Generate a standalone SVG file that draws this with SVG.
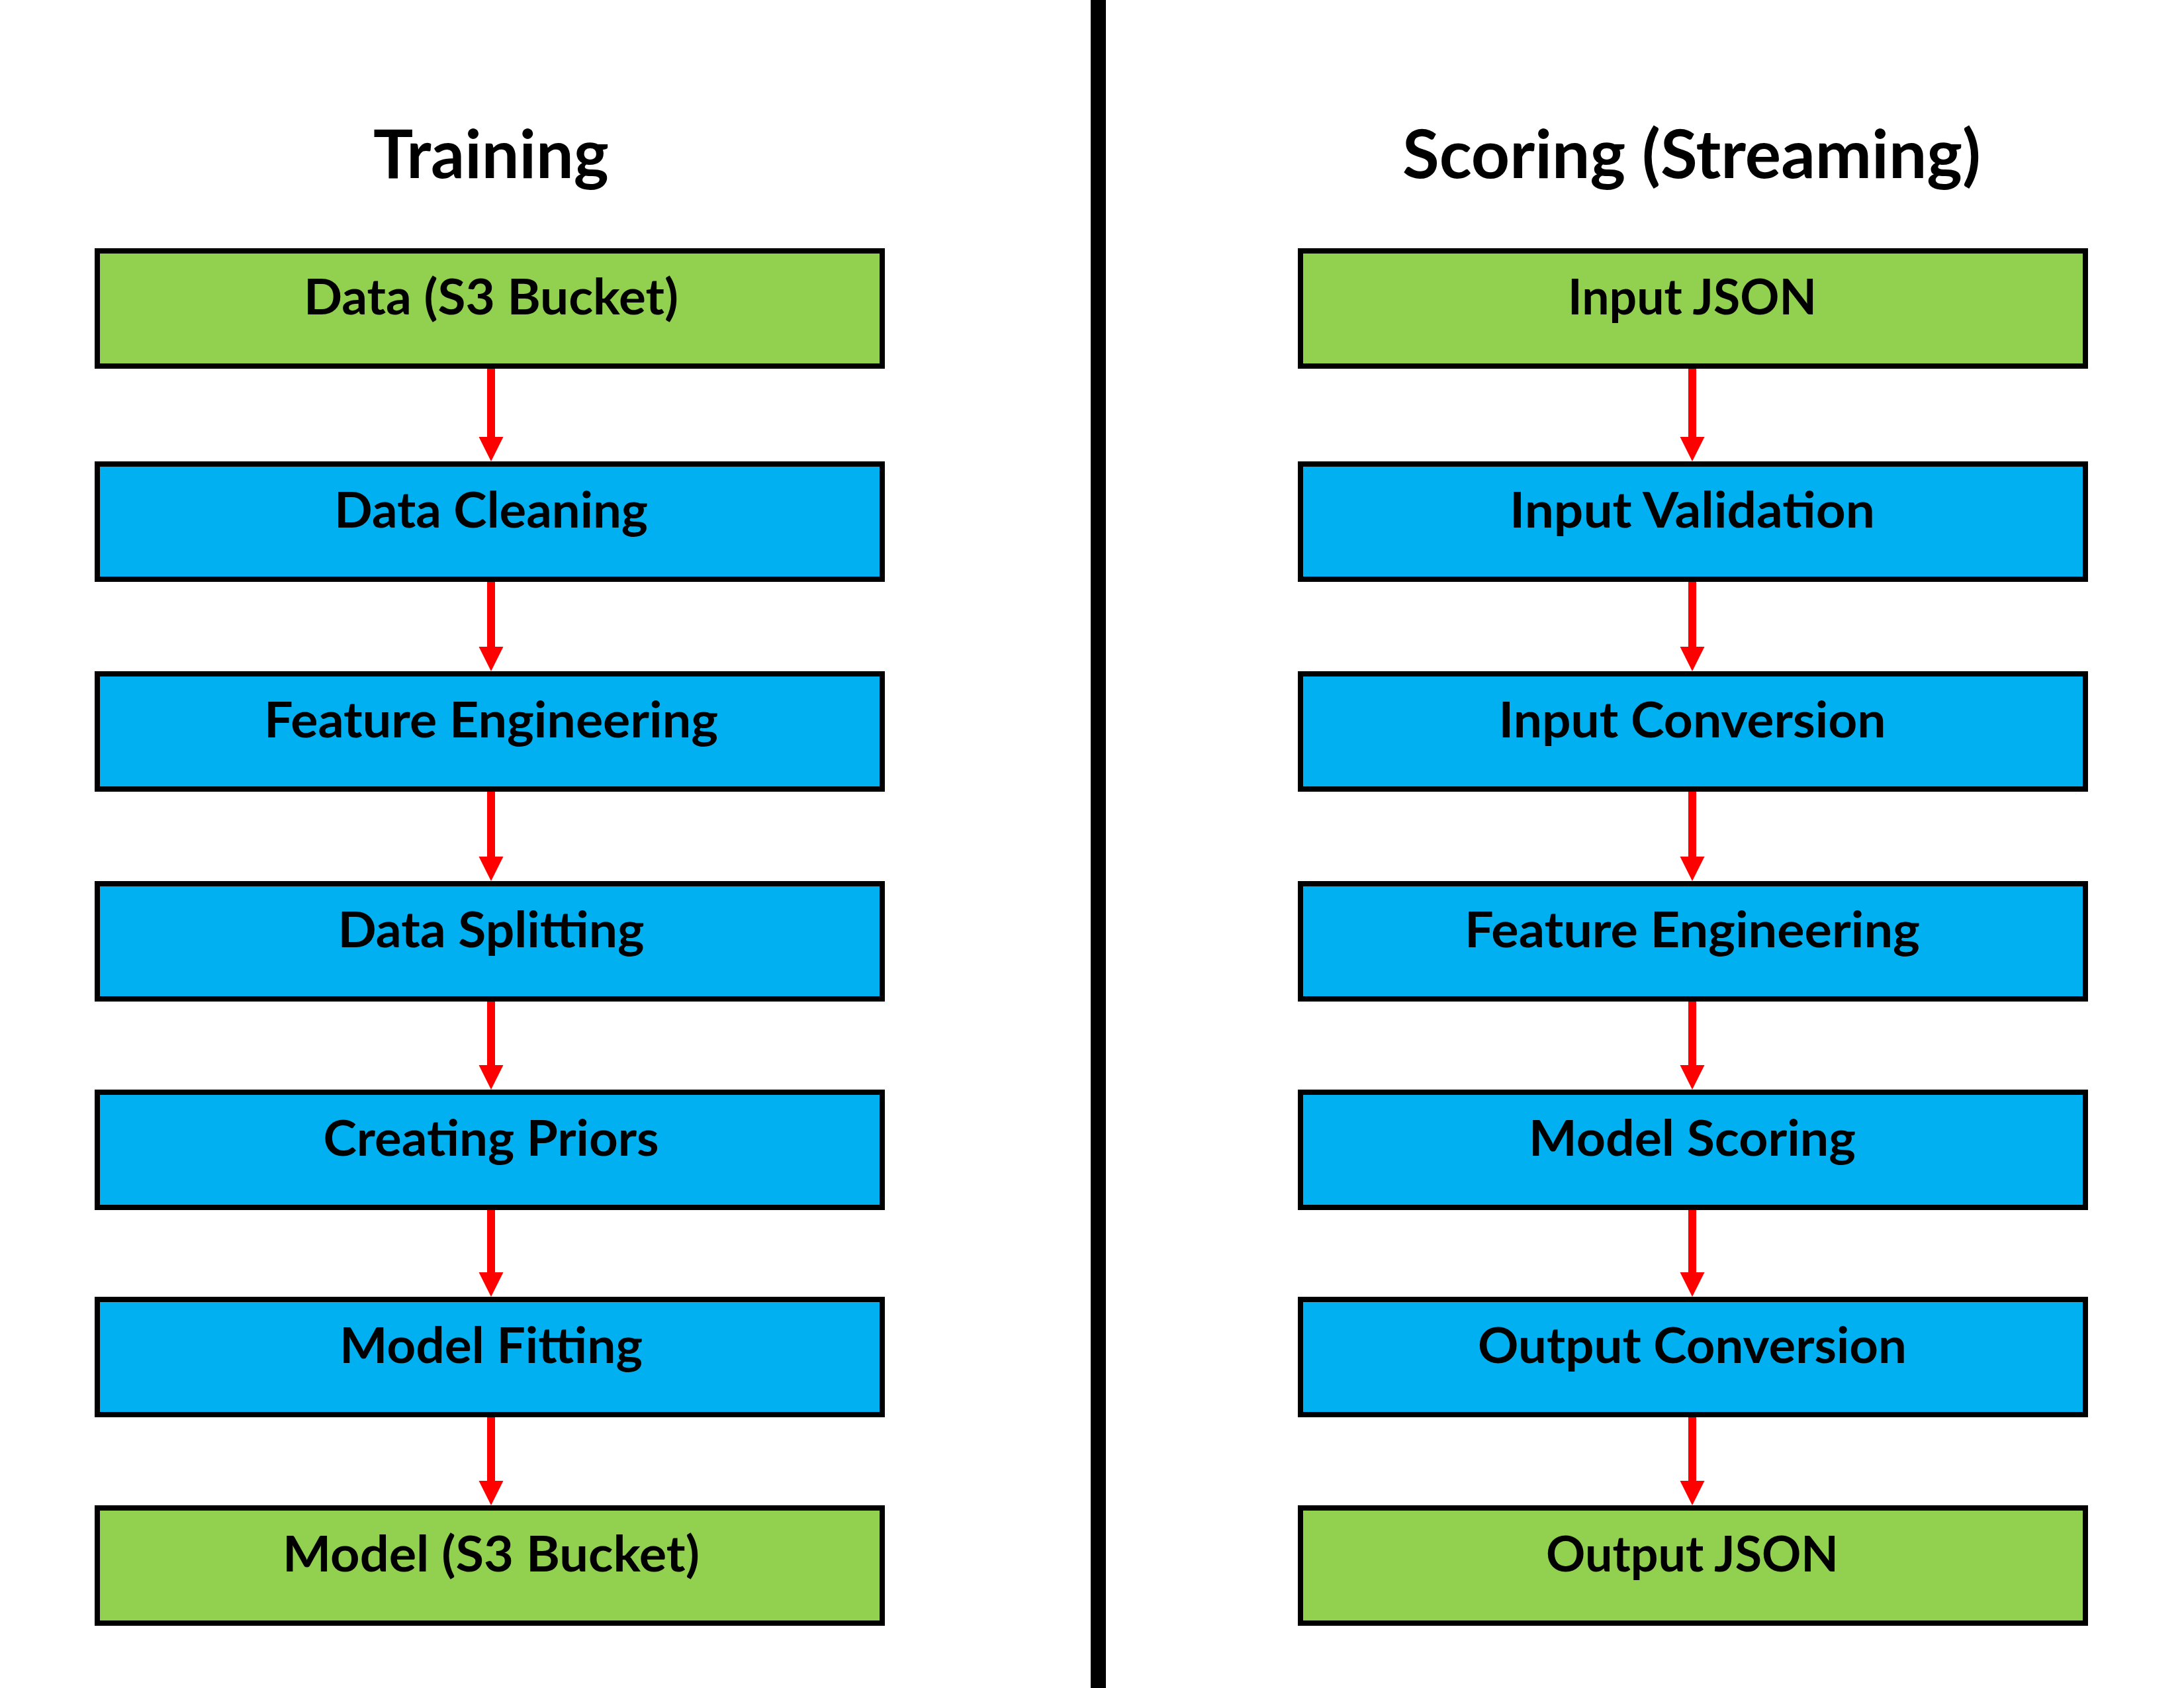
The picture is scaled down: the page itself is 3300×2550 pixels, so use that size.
<svg xmlns="http://www.w3.org/2000/svg" width="3300" height="2550" viewBox="0 0 3300 2550">
<style>
.box{stroke:#000;stroke-width:8}
.g{fill:#92D050}
.b{fill:#00B0F0}
.lbl{font-family:Lato,"Open Sans","Liberation Sans",sans-serif;font-weight:bold;font-size:75px;fill:#000;text-anchor:middle}
.ttl{font-family:Lato,"Open Sans","Liberation Sans",sans-serif;font-weight:bold;font-size:102px;fill:#000;text-anchor:middle}
.con{stroke:#FF0000;stroke-width:12;fill:none;marker-end:url(#ah)}
</style>
<defs>
<marker id="ah" markerUnits="userSpaceOnUse" markerWidth="38" markerHeight="38" refX="1" refY="18.5" orient="auto" viewBox="0 0 38 37">
<path d="M0,0 L37,18.5 L0,37 Z" fill="#FF0000"/>
</marker>
</defs>
<rect width="3300" height="2550" fill="#fff"/>
<rect id="separator" x="1648" y="0" width="23" height="2550" fill="#000"/>
<text id="title-training" class="ttl" x="742" y="269" textLength="356" lengthAdjust="spacingAndGlyphs">Training</text>
<text id="title-scoring" class="ttl" x="2556" y="269" textLength="874" lengthAdjust="spacingAndGlyphs">Scoring (Streaming)</text>
<g id="connectors">
<line class="con" x1="742" y1="557" x2="742" y2="661"/>
<line class="con" x1="742" y1="879" x2="742" y2="978"/>
<line class="con" x1="742" y1="1196" x2="742" y2="1295"/>
<line class="con" x1="742" y1="1513" x2="742" y2="1610"/>
<line class="con" x1="742" y1="1828" x2="742" y2="1923"/>
<line class="con" x1="742" y1="2141" x2="742" y2="2238"/>
<line class="con" x1="2557" y1="557" x2="2557" y2="661"/>
<line class="con" x1="2557" y1="879" x2="2557" y2="978"/>
<line class="con" x1="2557" y1="1196" x2="2557" y2="1295"/>
<line class="con" x1="2557" y1="1513" x2="2557" y2="1610"/>
<line class="con" x1="2557" y1="1828" x2="2557" y2="1923"/>
<line class="con" x1="2557" y1="2141" x2="2557" y2="2238"/>
</g>
<g id="t1"><rect class="box g" x="147" y="379" width="1186" height="174"/><text class="lbl" x="742" y="475" textLength="566" lengthAdjust="spacingAndGlyphs">Data (S3 Bucket)</text></g>
<g id="t2"><rect class="box b" x="147" y="701" width="1186" height="174"/><text class="lbl" x="742" y="797" textLength="474" lengthAdjust="spacingAndGlyphs">Data Cleaning</text></g>
<g id="t3"><rect class="box b" x="147" y="1018" width="1186" height="174"/><text class="lbl" x="742" y="1114" textLength="686" lengthAdjust="spacingAndGlyphs">Feature Engineering</text></g>
<g id="t4"><rect class="box b" x="147" y="1335" width="1186" height="174"/><text class="lbl" x="742" y="1431" textLength="463" lengthAdjust="spacingAndGlyphs">Data Splitting</text></g>
<g id="t5"><rect class="box b" x="147" y="1650" width="1186" height="174"/><text class="lbl" x="742" y="1746" textLength="507" lengthAdjust="spacingAndGlyphs">Creating Priors</text></g>
<g id="t6"><rect class="box b" x="147" y="1963" width="1186" height="174"/><text class="lbl" x="742" y="2059" textLength="458" lengthAdjust="spacingAndGlyphs">Model Fitting</text></g>
<g id="t7"><rect class="box g" x="147" y="2278" width="1186" height="174"/><text class="lbl" x="742" y="2374" textLength="630" lengthAdjust="spacingAndGlyphs">Model (S3 Bucket)</text></g>
<g id="s1"><rect class="box g" x="1965" y="379" width="1186" height="174"/><text class="lbl" x="2557" y="475" textLength="376" lengthAdjust="spacingAndGlyphs">Input JSON</text></g>
<g id="s2"><rect class="box b" x="1965" y="701" width="1186" height="174"/><text class="lbl" x="2557" y="797" textLength="552" lengthAdjust="spacingAndGlyphs">Input Validation</text></g>
<g id="s3"><rect class="box b" x="1965" y="1018" width="1186" height="174"/><text class="lbl" x="2557" y="1114" textLength="585" lengthAdjust="spacingAndGlyphs">Input Conversion</text></g>
<g id="s4"><rect class="box b" x="1965" y="1335" width="1186" height="174"/><text class="lbl" x="2557" y="1431" textLength="688" lengthAdjust="spacingAndGlyphs">Feature Engineering</text></g>
<g id="s5"><rect class="box b" x="1965" y="1650" width="1186" height="174"/><text class="lbl" x="2557" y="1746" textLength="494" lengthAdjust="spacingAndGlyphs">Model Scoring</text></g>
<g id="s6"><rect class="box b" x="1965" y="1963" width="1186" height="174"/><text class="lbl" x="2557" y="2059" textLength="648" lengthAdjust="spacingAndGlyphs">Output Conversion</text></g>
<g id="s7"><rect class="box g" x="1965" y="2278" width="1186" height="174"/><text class="lbl" x="2557" y="2374" textLength="442" lengthAdjust="spacingAndGlyphs">Output JSON</text></g>
</svg>
